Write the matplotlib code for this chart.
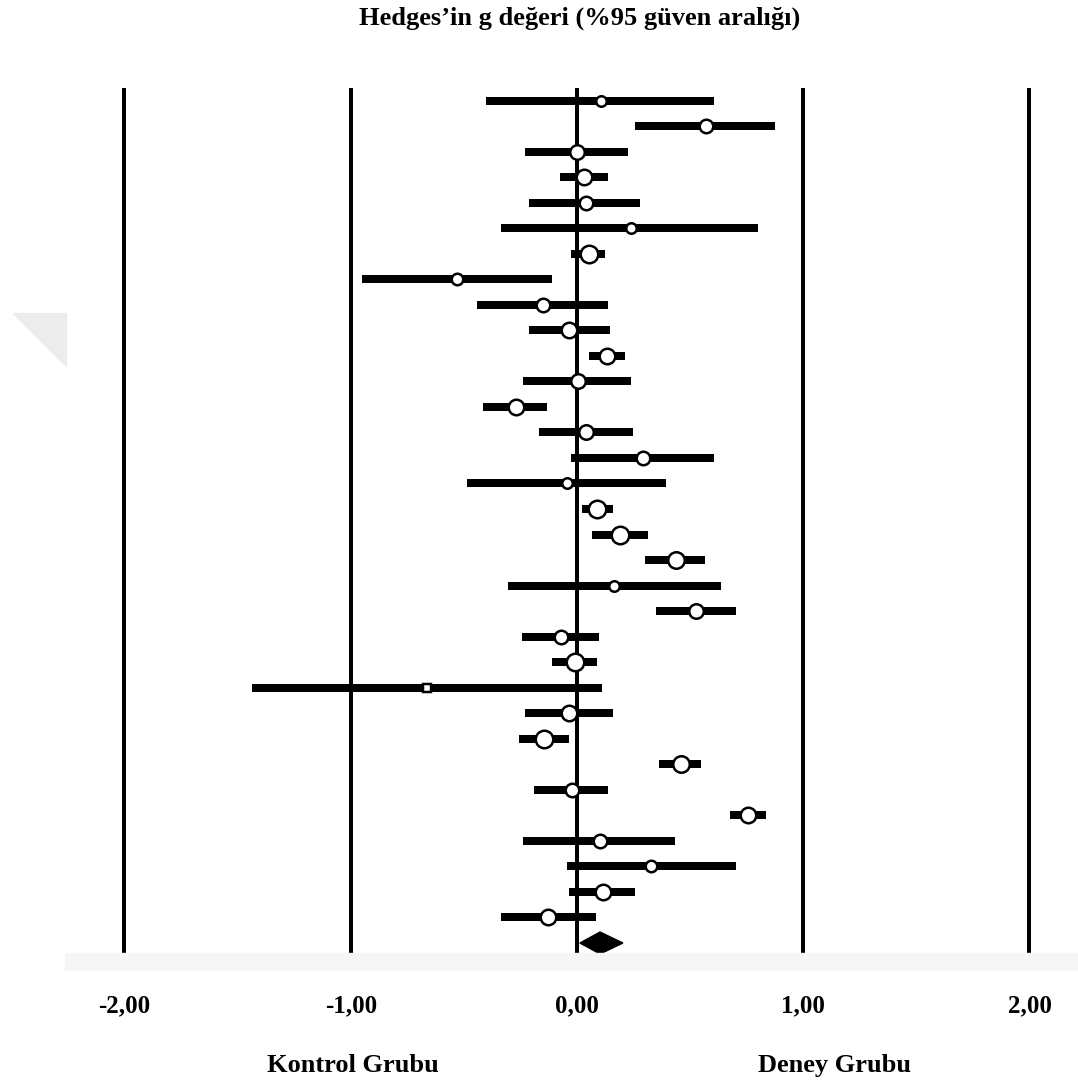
import matplotlib
matplotlib.use("Agg")
import matplotlib.pyplot as plt
import numpy as np
from matplotlib.patches import Polygon, Rectangle

# Hedges' g and 95% CI for each study (top to bottom)
hedges_g = [0.106, 0.569, 0.000, 0.032, 0.038, 0.237, 0.053, -0.529, -0.152, -0.035,
            0.134, 0.003, -0.268, 0.040, 0.293, -0.043, 0.090, 0.190, 0.436, 0.165,
            0.526, -0.071, -0.009, -0.662, -0.033, -0.146, 0.458, -0.022, 0.757, 0.102,
            0.327, 0.113, -0.128]
ci_lower = [-0.404, 0.255, -0.230, -0.075, -0.211, -0.337, -0.028, -0.950, -0.443, -0.211,
            0.052, -0.237, -0.414, -0.169, -0.028, -0.485, 0.021, 0.065, 0.301, -0.304,
            0.348, -0.245, -0.109, -1.436, -0.230, -0.257, 0.362, -0.190, 0.676, -0.237,
            -0.043, -0.035, -0.337]
ci_upper = [0.606, 0.875, 0.224, 0.138, 0.278, 0.801, 0.124, -0.112, 0.138, 0.144,
            0.212, 0.239, -0.131, 0.246, 0.607, 0.393, 0.158, 0.312, 0.567, 0.635,
            0.703, 0.099, 0.087, 0.112, 0.158, -0.036, 0.550, 0.137, 0.835, 0.433,
            0.703, 0.258, 0.084]
# relative weight -> marker diameter in pixels
weight_px = [12, 15, 16, 17, 15, 12, 19, 13, 15, 17, 17, 16, 17, 16, 15, 12, 19, 19,
             18, 12, 16, 15, 19, 9, 17, 19, 18, 15, 17, 15, 13, 17, 17]

# overall effect
overall_g = 0.102
overall_lower = 0.013
overall_upper = 0.203

ticks = [-2, -1, 0, 1, 2]
tick_labels = ["-2,00", "-1,00", "0,00", "1,00", "2,00"]

W, H = 1078, 1083
fig = plt.figure(figsize=(W / 100, H / 100), dpi=100)
plt.rcParams['font.family'] = ['Liberation Serif', 'DejaVu Serif']

ax = fig.add_axes([100 / W, 1 - 955 / H, 953 / W, 867 / H])
ax.set_xlim(-2.108, 2.104)
ax.set_ylim(34.47, 0.51)
for s in ax.spines.values():
    s.set_visible(False)
ax.set_yticks([])
ax.set_xticks(ticks)
ax.set_xticklabels(tick_labels, fontsize=18, fontweight='bold')
ax.tick_params(axis='x', length=0, pad=28)

px = 0.72  # points per pixel
for x in ticks:
    ax.axvline(x, color='black', lw=4 * px, zorder=1)

rows = np.arange(1, len(hedges_g) + 1)
for y, g, lo, hi, d in zip(rows, hedges_g, ci_lower, ci_upper, weight_px):
    ax.plot([lo, hi], [y, y], color='black', lw=8 * px, solid_capstyle='butt', zorder=2)
    marker = 's' if d < 10 else 'o'
    ax.plot(g, y, marker=marker, ms=(d - 1.5) * px, mfc='white', mec='black',
            mew=2.5 * px, zorder=3)

# summary diamond
yd = len(hedges_g) + 1
half = 0.43
ax.add_patch(Polygon([[overall_lower, yd], [overall_g, yd - half],
                      [overall_upper, yd], [overall_g, yd + half]],
                     closed=True, color='black', zorder=3))

trans = ax.get_xaxis_transform()
ax.text(-0.99, -0.127, "Kontrol Grubu", transform=trans, ha='center', va='center',
        fontsize=19, fontweight='bold')
ax.text(1.14, -0.127, "Deney Grubu", transform=trans, ha='center', va='center',
        fontsize=19, fontweight='bold')

fig.text(580 / W, 1 - 18 / H, "Hedges’in g değeri (%95 güven aralığı)",
         ha='center', va='center', fontsize=19, fontweight='bold')

# faint band under the plot and corner watermark
fig.patches.append(Rectangle((65 / W, 1 - 970 / H), 1 - 65 / W, 17 / H,
                             transform=fig.transFigure, color='#f6f6f6', zorder=0))
fig.patches.append(Polygon([[13 / W, 1 - 313 / H], [66 / W, 1 - 313 / H], [66 / W, 1 - 366 / H]],
                           closed=True, transform=fig.transFigure, color='#ececec', zorder=0))

fig.savefig("out.png", dpi=100)
